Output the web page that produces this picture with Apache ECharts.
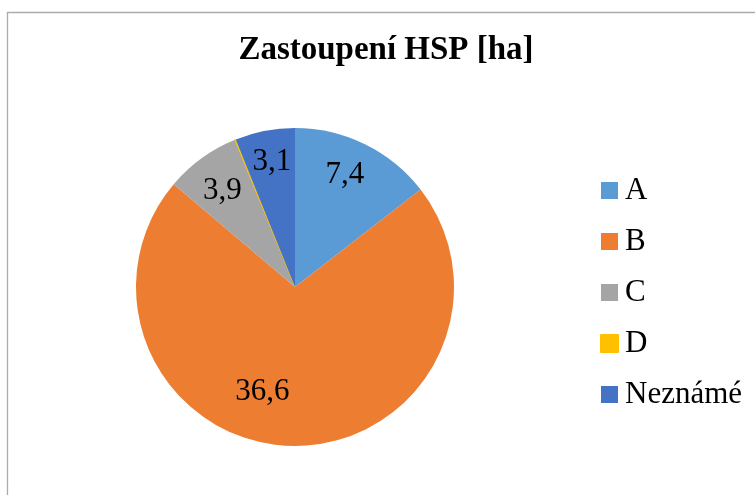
<!DOCTYPE html>
<html>
<head>
<meta charset="utf-8">
<title>Zastoupení HSP [ha]</title>
<script src="https://cdn.jsdelivr.net/npm/echarts@6/dist/echarts.min.js"></script>
<style>
  html, body { margin: 0; padding: 0; background: #fff; }
  #chart { width: 755px; height: 495px; }
</style>
</head>
<body>
<div id="chart"></div>
<script>
// Plocha hospodářských souborů porostů podle kategorie (ha)
const categories = ['A', 'B', 'C', 'D', 'Neznámé'];
const areas = [7.4, 36.6, 3.9, 0.05, 3.1];
const colors = ['#5B9BD5', '#ED7D31', '#A5A5A5', '#FFC000', '#4472C4'];

// Umístění popisků uvnitř výsečí: [podíl poloměru, posun úhlu ve stupních]
const labelPlacement = [[0.77, -2], [0.69, 16], [0.76, -1], null, [0.80, 0.5]];

const center = [295, 287];
const radius = 159;
const serif = '"Liberation Serif", "Times New Roman", serif';

const total = areas.reduce((s, v) => s + v, 0);
// úhel středu každé výseče, měřeno po směru hodin od svislice
const midAngles = [];
let acc = 0;
areas.forEach(v => {
  midAngles.push((acc + v / 2) / total * 360);
  acc += v;
});

const fmt = v => v.toFixed(1).replace('.', ',');

const chart = echarts.init(document.getElementById('chart'), null, { renderer: 'canvas' });

chart.setOption({
  animation: false,
  backgroundColor: '#ffffff',
  title: {
    text: 'Zastoupení HSP [ha]',
    left: 381,
    top: 29,
    textAlign: 'center',
    textStyle: {
      fontFamily: serif,
      fontWeight: 'bold',
      fontSize: 33,
      color: '#000'
    }
  },
  legend: {
    orient: 'vertical',
    left: 595,
    top: 170,
    icon: 'rect',
    itemWidth: 17,
    itemHeight: 17,
    itemGap: 20,
    selectedMode: false,
    data: categories,
    textStyle: {
      fontFamily: serif,
      fontSize: 31,
      lineHeight: 31,
      color: '#000',
      padding: [0, 0, 0, 2]
    }
  },
  graphic: [{
    type: 'rect',
    silent: true,
    shape: { x: 7.5, y: 12.5, width: 900, height: 600 },
    style: { fill: 'none', stroke: '#ababab', lineWidth: 1.3 }
  }],
  series: [{
    type: 'pie',
    center: center,
    radius: radius,
    startAngle: 90,
    clockwise: true,
    silent: true,
    avoidLabelOverlap: false,
    emphasis: { disabled: true },
    label: {
      show: true,
      position: 'inside',
      fontFamily: serif,
      fontSize: 31,
      color: '#000',
      formatter: p => fmt(p.value)
    },
    labelLine: { show: false },
    labelLayout: function (params) {
      const place = labelPlacement[params.dataIndex];
      if (!place) return {};
      const a = (midAngles[params.dataIndex] + place[1]) * Math.PI / 180;
      const r = radius * place[0];
      return {
        x: center[0] + r * Math.sin(a),
        y: center[1] - r * Math.cos(a),
        align: 'center',
        verticalAlign: 'middle'
      };
    },
    data: categories.map((name, i) => {
      const item = {
        name: name,
        value: areas[i],
        itemStyle: { color: colors[i] }
      };
      if (!labelPlacement[i]) {
        item.label = { show: false };
        item.itemStyle.borderColor = colors[i];
        item.itemStyle.borderWidth = 0.8;
      }
      return item;
    })
  }]
});
</script>
</body>
</html>
